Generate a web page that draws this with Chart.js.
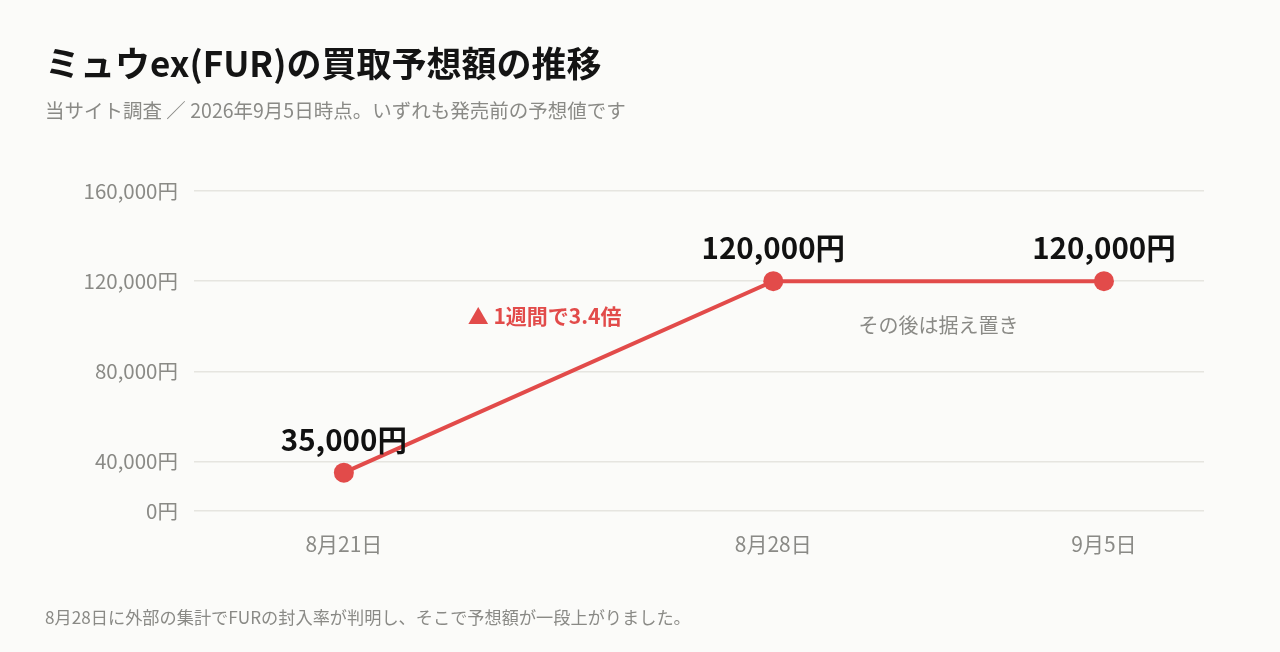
<!DOCTYPE html>
<html lang="ja">
<head>
<meta charset="utf-8">
<script src="https://cdn.jsdelivr.net/npm/chart.js@4.4.1/dist/chart.umd.min.js"></script>
<style>
  html, body { margin: 0; padding: 0; background: #fbfbf9; }
  body { width: 1280px; height: 652px; position: relative; overflow: hidden;
         font-family: "Noto Sans CJK JP", "Noto Sans", sans-serif; }
  #wrap { position: absolute; left: 0; top: 0; width: 1280px; height: 652px; }
  .t { position: absolute; left: 45px; white-space: nowrap; }
  #title { top: 40px; height: 44px; line-height: 44px; font-size: 35px; font-weight: 700; color: #141414; }
  #sub { top: 97px; height: 26px; line-height: 26px; font-size: 19.5px; color: #8a8a86; }
  #foot { top: 605px; height: 24px; line-height: 24px; font-size: 17.2px; color: #8a8a86; }
</style>
</head>
<body>
<div id="wrap"><canvas id="c"></canvas></div>
<div class="t" id="title">ミュウex(FUR)の買取予想額の推移</div>
<div class="t" id="sub">当サイト調査 ／ 2026年9月5日時点。いずれも発売前の予想値です</div>
<div class="t" id="foot">8月28日に外部の集計でFURの封入率が判明し、そこで予想額が一段上がりました。</div>
<script>
// ---- data ----
const categories = ["8月21日", "8月28日", "9月5日"];
const xValues = [0, 1, 1.77];            // position of each date on the x axis
const prices = [35000, 120000, 120000];  // 買取予想額 (円)
const yTicks = [0, 40000, 80000, 120000, 160000];
const yTickLabels = ["0円", "40,000円", "80,000円", "120,000円", "160,000円"];
const riseNote = "▲ 1週間で3.4倍";
const flatNote = "その後は据え置き";

const RED = "#e24b4a";
const GRAY = "#8a8a86";
const FONT = '"Noto Sans CJK JP", "Noto Sans", sans-serif';
const yFloor = 18000;

const fmt = v => v.toLocaleString("en-US") + "円";

const labelPlugin = {
  id: "labels",
  afterDatasetsDraw(chart) {
    const ctx = chart.ctx;
    const pts = chart.getDatasetMeta(0).data;
    ctx.save();
    ctx.textAlign = "center";
    ctx.textBaseline = "middle";
    ctx.fillStyle = "#111111";
    ctx.font = "700 29.5px " + FONT;
    pts.forEach((p, i) => {
      ctx.fillText(fmt(prices[i]), p.x, p.y - 33);
    });
    // rise annotation
    const mx = (pts[0].x + pts[1].x) / 2, my = (pts[0].y + pts[1].y) / 2;
    ctx.fillStyle = RED;
    ctx.font = "700 21px " + FONT;
    ctx.fillText(riseNote, mx - 14, my - 61);
    // flat annotation
    const fx = (pts[1].x + pts[2].x) / 2, fy = (pts[1].y + pts[2].y) / 2;
    ctx.fillStyle = GRAY;
    ctx.font = "400 20px " + FONT;
    ctx.fillText(flatNote, fx, fy + 44);
    ctx.restore();
  }
};

new Chart(document.getElementById("c"), {
  type: "line",
  data: {
    datasets: [{
      data: xValues.map((x, i) => ({ x: x, y: prices[i] })),
      borderColor: RED,
      backgroundColor: RED,
      borderWidth: 4,
      pointRadius: 10,
      pointHoverRadius: 10,
      pointBorderWidth: 0,
      pointBackgroundColor: RED,
      tension: 0,
      clip: false
    }]
  },
  options: {
    responsive: true,
    maintainAspectRatio: false,
    animation: false,
    events: [],
    layout: { padding: { left: 0, right: 76, top: 191, bottom: 81 } },
    plugins: { legend: { display: false }, tooltip: { enabled: false } },
    scales: {
      x: {
        type: "linear",
        min: -0.349,
        max: 2.003,
        grid: { display: false, drawTicks: false },
        border: { display: false },
        afterBuildTicks: s => { s.ticks = xValues.map(v => ({ value: v })); },
        afterFit: s => { s.height = 60; },
        ticks: {
          padding: 20,
          color: GRAY,
          font: { family: FONT, size: 21 },
          maxRotation: 0,
          autoSkip: false,
          callback: (v, i) => categories[i]
        }
      },
      y: {
        min: yFloor,
        max: 160000,
        grid: { color: "#e6e5e0", lineWidth: 1.5, drawTicks: false },
        border: { display: false },
        afterBuildTicks: s => { s.ticks = yTicks.map(v => ({ value: Math.max(v, yFloor) })); },
        afterFit: s => { s.width = 194; },
        ticks: {
          padding: 16,
          color: GRAY,
          font: { family: FONT, size: 20.5 },
          callback: (v, i) => yTickLabels[i]
        }
      }
    }
  },
  plugins: [labelPlugin]
});
</script>
</body>
</html>
